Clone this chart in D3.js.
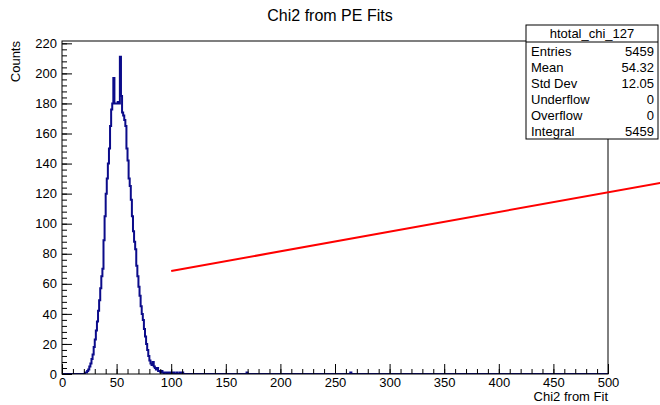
<!DOCTYPE html>
<html>
<head>
<meta charset="utf-8">
<script src="https://cdn.jsdelivr.net/npm/d3@7"></script>
<style>
  body { margin: 0; background: #fff; }
  svg text { font-family: "Liberation Sans", Arial, sans-serif; }
</style>
</head>
<body>
<div id="chart"></div>
<script>
// histogram: 500 bins of width 1 over [0, 500]
const nBins = 500;
const peakStart = 20; // first bin of peakCounts
const peakCounts = [
  0, 1, 1, 2, 3, 5, 7, 10, 13, 18,
  23, 29, 35, 42, 49, 57, 65, 70, 89, 105,
  120, 130, 140, 150, 165, 176, 180, 197, 180, 180,
  180, 181, 180, 211, 185, 174, 172, 169, 165, 150,
  142, 130, 125, 116, 105, 95, 88, 83, 72, 65,
  58, 52, 45, 40, 36, 30, 25, 20, 16, 12,
  9, 7, 6, 8, 5, 4, 3, 4, 2, 2,
  1, 2, 1, 0, 1, 1, 0, 1, 1, 0,
  1, 0, 1, 0, 0, 1, 0, 0, 1, 0, 1
];
const tailBins = [169, 264];
const tailCounts = [1, 1];

// linear fit drawn in red
const fitRange = [100, 600];
const fitIntercept = 55.4;
const fitSlope = 0.131;

const xTicks = d3.range(0, 501, 50);
const xMinor = d3.range(0, 501, 10);
const yTicks = d3.range(0, 221, 20);
const yMinor = d3.range(0, 221, 4);

const statLabels = ["Entries", "Mean", "Std Dev", "Underflow", "Overflow", "Integral"];
const statValues = ["5459", "54.32", "12.05", "0", "0", "5459"];

const W = 660, H = 405;
const frame = { left: 62, right: 608, top: 41, bottom: 374 };

const counts = new Array(nBins).fill(0);
peakCounts.forEach((c, i) => { counts[peakStart + i] = c; });
tailBins.forEach((b, i) => { counts[b] = tailCounts[i]; });

const yMax = 1.05 * d3.max(counts);

const svg = d3.select("#chart").append("svg")
  .attr("width", W)
  .attr("height", H);

const x = d3.scaleLinear().domain([0, 500]).range([frame.left, frame.right]);
const y = d3.scaleLinear().domain([0, yMax]).range([frame.bottom, frame.top]);

svg.append("defs").append("clipPath").attr("id", "frameClip")
  .append("rect")
  .attr("x", frame.left).attr("y", frame.top)
  .attr("width", frame.right - frame.left)
  .attr("height", frame.bottom - frame.top);

// histogram outline
const pts = counts.map((c, i) => [i, c]);
pts.push([nBins, counts[nBins - 1]]);
const step = d3.line()
  .curve(d3.curveStepAfter)
  .x(d => x(d[0]))
  .y(d => y(d[1]));

svg.append("path")
  .attr("clip-path", "url(#frameClip)")
  .attr("d", step(pts))
  .attr("fill", "none")
  .attr("stroke", "#0b0b8a")
  .attr("stroke-width", 2);

// axes
const gx = svg.append("g").attr("transform", `translate(0,${frame.bottom})`);
gx.call(d3.axisBottom(x).tickValues(xMinor).tickSize(-5).tickFormat(""));
gx.append("g").call(d3.axisBottom(x).tickValues(xTicks).tickSize(-10).tickPadding(4).tickFormat(d3.format("d")));
gx.selectAll(".domain").remove();

const gy = svg.append("g").attr("transform", `translate(${frame.left},0)`);
gy.call(d3.axisLeft(y).tickValues(yMinor).tickSize(-5).tickFormat(""));
gy.append("g").call(d3.axisLeft(y).tickValues(yTicks).tickSize(-10).tickPadding(5).tickFormat(d3.format("d")));
gy.selectAll(".domain").remove();

svg.selectAll(".tick line").attr("stroke", "#000");
svg.selectAll(".tick text").attr("font-size", 13).attr("fill", "#000");

// frame
svg.append("rect")
  .attr("x", frame.left).attr("y", frame.top)
  .attr("width", frame.right - frame.left)
  .attr("height", frame.bottom - frame.top)
  .attr("fill", "none")
  .attr("stroke", "#000")
  .attr("stroke-width", 1);

// fit line
svg.append("line")
  .attr("x1", x(fitRange[0])).attr("y1", y(fitIntercept + fitSlope * fitRange[0]))
  .attr("x2", x(fitRange[1])).attr("y2", y(fitIntercept + fitSlope * fitRange[1]))
  .attr("stroke", "#ff0000")
  .attr("stroke-width", 2);

// titles
svg.append("text")
  .attr("x", W / 2).attr("y", 21)
  .attr("text-anchor", "middle")
  .attr("font-size", 16)
  .text("Chi2 from PE Fits");

svg.append("text")
  .attr("transform", `translate(20,${frame.top}) rotate(-90)`)
  .attr("text-anchor", "end")
  .attr("font-size", 13)
  .text("Counts");

svg.append("text")
  .attr("x", frame.right).attr("y", 401)
  .attr("text-anchor", "end")
  .attr("font-size", 13)
  .text("Chi2 from Fit");

// stats box
const box = { x: 526, y: 25, w: 132, h: 114 };
const gs = svg.append("g");
gs.append("rect")
  .attr("x", box.x).attr("y", box.y)
  .attr("width", box.w).attr("height", box.h)
  .attr("fill", "#fff")
  .attr("stroke", "#000");
gs.append("line")
  .attr("x1", box.x).attr("x2", box.x + box.w)
  .attr("y1", 42).attr("y2", 42)
  .attr("stroke", "#000");
gs.append("text")
  .attr("x", box.x + box.w / 2).attr("y", 38)
  .attr("text-anchor", "middle")
  .attr("font-size", 13)
  .text("htotal_chi_127");
statLabels.forEach((lab, i) => {
  const by = 56 + i * 16;
  gs.append("text").attr("x", box.x + 5).attr("y", by)
    .attr("font-size", 13).text(lab);
  gs.append("text").attr("x", box.x + box.w - 4).attr("y", by)
    .attr("text-anchor", "end").attr("font-size", 13).text(statValues[i]);
});
</script>
</body>
</html>
